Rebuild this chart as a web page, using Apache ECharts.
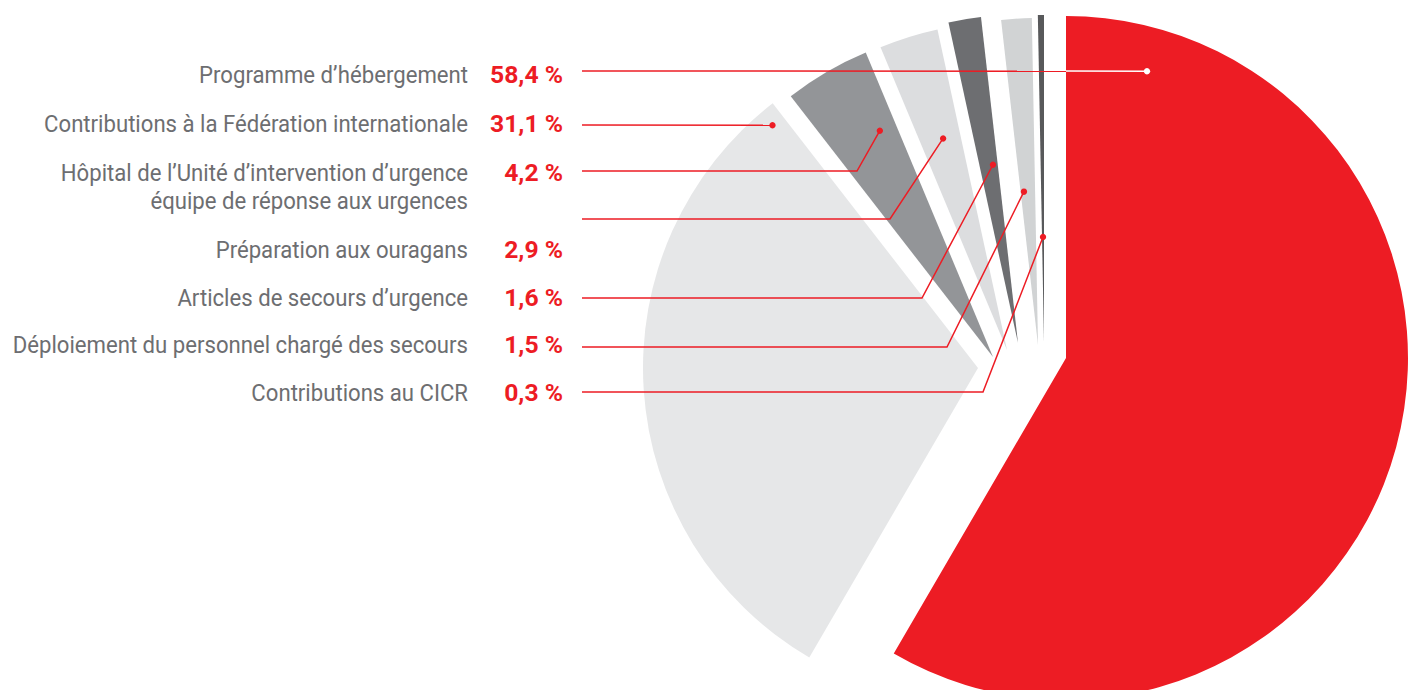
<!DOCTYPE html>
<html>
<head>
<meta charset="utf-8">
<script src="https://cdn.jsdelivr.net/npm/echarts@6/dist/echarts.min.js"></script>
<style>
html,body{margin:0;padding:0;background:#fff;}
#chart{width:1416px;height:690px;}
</style>
</head>
<body>
<div id="chart"></div>
<script>
// ---- data ----
const categories = [
  'Programme d’hébergement',
  'Contributions à la Fédération internationale',
  'Hôpital de l’Unité d’intervention d’urgence\néquipe de réponse aux urgences',
  'Préparation aux ouragans',
  'Articles de secours d’urgence',
  'Déploiement du personnel chargé des secours',
  'Contributions au CICR'
];
const values = [58.4, 31.1, 4.2, 2.9, 1.6, 1.5, 0.3];

// ---- layout / style (not data) ----
const sliceColors = ['#ed1c24', '#e6e7e8', '#939598', '#dcdddf', '#6d6e71', '#d1d3d4', '#58595b'];
const sliceCenters = [[1066, 358], [978, 368], [993, 357], [1007, 350], [1018, 343], [1038, 345], [1044, 342]];
const sliceRadii = [342, 335, 330, 328, 328, 327, 327];
const labelRowY = [75, 124, 173, 250, 298, 345, 393];
const labelLineHeight = 28;
const labelRight = 468;
const pctRight = 563;
const leaderStartX = 582;
const leaderY = [71, 125, 171, 219, 298, 347, 392];
const leaderElbowX = [null, null, 857, 890, 922, 947, 983];
const dotAngleFrac = [0.075, 0.978, 0.743, 0.563, 0.736, 0.23, 0.5];
const dotRadius = [298, 318, 253, 221, 180, 154, 105];
const RED = '#ed1c24';
const GREY_TEXT = '#6d6e71';
const FONT = 'Roboto, sans-serif';
const FS = 24;
const TEXT_SCALE_X = 0.923;
const PCT_SCALE_X = 1.03;

const chart = echarts.init(document.getElementById('chart'), null, {renderer: 'svg'});

const total = values.reduce((a, b) => a + b, 0);
const cum = [];
values.reduce((acc, v, i) => { cum[i] = acc; return acc + v; }, 0);

const series = values.map((_, k) => ({
  type: 'pie',
  silent: true,
  animation: false,
  center: sliceCenters[k],
  radius: [0, sliceRadii[k]],
  startAngle: 90,
  clockwise: true,
  minAngle: 0,
  avoidLabelOverlap: false,
  label: {show: false},
  labelLine: {show: false},
  z: k === 0 ? 3 : 2,
  data: values.map((v, i) => ({
    name: categories[i],
    value: v,
    itemStyle: {color: i === k ? sliceColors[i] : 'rgba(0,0,0,0)', borderWidth: 0}
  }))
}));

function slicePoint(k) {
  const a0 = cum[k] / total * 360;
  const sweep = values[k] / total * 360;
  const th = (a0 + dotAngleFrac[k] * sweep) * Math.PI / 180;
  const c = sliceCenters[k];
  return [c[0] + dotRadius[k] * Math.sin(th), c[1] - dotRadius[k] * Math.cos(th)];
}

const graphics = [];
categories.forEach((name, i) => {
  const lines = name.split('\n');
  lines.forEach((ln, j) => {
    graphics.push({
      type: 'text', z: 10,
      x: labelRight, y: labelRowY[i] + j * labelLineHeight, scaleX: TEXT_SCALE_X,
      style: {text: ln, fill: GREY_TEXT, fontSize: FS, fontFamily: FONT, align: 'right', verticalAlign: 'middle'}
    });
  });
  graphics.push({
    type: 'text', z: 10,
    x: pctRight, y: labelRowY[i], scaleX: PCT_SCALE_X,
    style: {text: values[i].toFixed(1).replace('.', ',') + ' %', fill: RED, fontSize: FS, fontWeight: 'bold', fontFamily: FONT, align: 'right', verticalAlign: 'middle'}
  });
  const p = slicePoint(i);
  const pts = [[leaderStartX, leaderY[i]]];
  if (leaderElbowX[i] != null) pts.push([leaderElbowX[i], leaderY[i]]);
  pts.push(p);
  graphics.push({type: 'polyline', z: 20, shape: {points: pts}, style: {stroke: RED, lineWidth: 1.5, fill: null}});
  if (i === 0) {
    graphics.push({type: 'line', z: 21, shape: {x1: sliceCenters[0][0], y1: leaderY[0], x2: p[0], y2: p[1]}, style: {stroke: '#ffffff', lineWidth: 1.5}});
    graphics.push({type: 'circle', z: 22, shape: {cx: p[0], cy: p[1], r: 3.2}, style: {fill: '#ffffff'}});
  } else {
    graphics.push({type: 'circle', z: 22, shape: {cx: p[0], cy: p[1], r: 3.2}, style: {fill: RED}});
  }
});

chart.setOption({
  animation: false,
  backgroundColor: '#ffffff',
  series: series,
  graphic: graphics
});
</script>
</body>
</html>
